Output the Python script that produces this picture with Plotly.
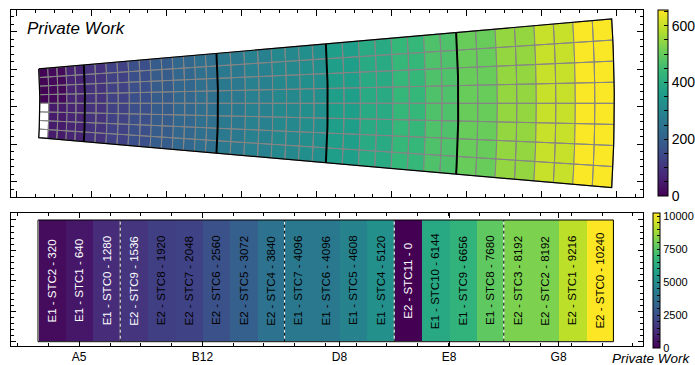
import math
import plotly.graph_objects as go
from plotly.colors import sample_colorscale

W, H = 695, 365

# ---------------- top panel data ----------------
module_names = ["A5", "B12", "D8", "E8", "G8"]
module_ncols = [5, 12, 8, 8, 8]
n_rows = 8
# colour value of each column, upper four rows
values_upper = [5, 15, 15, 65, 65,
                98, 98, 130, 130, 160, 160, 189, 189, 215, 215, 241, 241,
                267, 267, 287, 287, 306, 306, 326, 326,
                365, 365, 398, 398, 437, 437, 469, 469,
                502, 502, 548, 548, 600, 600, 652, 652]
# colour value of each column, lower four rows (None = empty cell)
values_lower = [None, 48, 48, 65, 65,
                98, 98, 130, 130, 160, 160, 189, 189, 215, 215, 241, 241,
                267, 267, 287, 287, 306, 306, 326, 326,
                365, 365, 398, 398, 437, 437, 469, 469,
                502, 502, 548, 548, 600, 600, 652, 652]
row_values = [values_upper] * 4 + [values_lower] * 4
top_cmin, top_cmax = 0, 655
top_cbar_major = [0, 200, 400, 600]

# ---------------- bottom panel data ----------------
stc_names = ["E1 - STC2", "E1 - STC1", "E1 - STC0", "E2 - STC9", "E2 - STC8",
             "E2 - STC7", "E2 - STC6", "E2 - STC5", "E2 - STC4", "E1 - STC7",
             "E1 - STC6", "E1 - STC5", "E1 - STC4", "E2 - STC11", "E1 - STC10",
             "E1 - STC9", "E1 - STC8", "E2 - STC3", "E2 - STC2", "E2 - STC1",
             "E2 - STC0"]
stc_values = [320, 640, 1280, 1536, 1920, 2048, 2560, 3072, 3840, 4096,
              4096, 4608, 5120, 0, 6144, 6656, 7680, 8192, 8192, 9216, 10240]
group_names = ["A5", "B12", "D8", "E8", "G8"]
group_sizes = [3, 6, 4, 4, 4]
bot_cmin, bot_cmax = 0, 10240
bot_cbar_major = [0, 2500, 5000, 7500, 10000]

# ---------------- geometry (layout) ----------------
X0, YC, K, PHI = -354.9, 103.3, 1.19, 0.0732
module_edges_r = [394.7, 439.9, 572.9, 682.6, 813.2, 969.2]

col_edges = []
for m, n in enumerate(module_ncols):
    ra, rb = module_edges_r[m], module_edges_r[m + 1]
    for k in range(n):
        col_edges.append(ra + (rb - ra) * k / n)
col_edges.append(module_edges_r[-1])
phi_edges = [PHI - 2 * PHI * j / n_rows for j in range(n_rows + 1)]


def pt(r, ph):
    return X0 + r * math.cos(ph), YC - K * r * math.sin(ph)


fig = go.Figure()

groups = {}
for j in range(n_rows):
    for c in range(len(col_edges) - 1):
        v = row_values[j][c]
        ra, rb = col_edges[c], col_edges[c + 1]
        pa, pb = phi_edges[j], phi_edges[j + 1]
        corners = [pt(ra, pa), pt(rb, pa), pt(rb, pb), pt(ra, pb), pt(ra, pa)]
        g = groups.setdefault(v, ([], []))
        for (x, y) in corners:
            g[0].append(x)
            g[1].append(y)
        g[0].append(None)
        g[1].append(None)

for v, (xs, ys) in groups.items():
    if v is None:
        col = "white"
    else:
        col = sample_colorscale("Viridis", [(v - top_cmin) / (top_cmax - top_cmin)])[0]
    fig.add_trace(go.Scatter(x=xs, y=ys, mode="lines", fill="toself", fillcolor=col,
                             line=dict(color="#858585", width=1), hoverinfo="skip",
                             xaxis="x", yaxis="y", showlegend=False))

# module boundaries
for r in module_edges_r[1:-1]:
    pts = [pt(r, PHI - 2 * PHI * t / 40) for t in range(41)]
    fig.add_trace(go.Scatter(x=[p[0] for p in pts], y=[p[1] for p in pts], mode="lines",
                             line=dict(color="black", width=2), hoverinfo="skip",
                             xaxis="x", yaxis="y", showlegend=False))
# outline
outline = [pt(module_edges_r[0], PHI - 2 * PHI * t / 40) for t in range(41)]
outline += [pt(module_edges_r[-1], -PHI + 2 * PHI * t / 40) for t in range(41)]
outline.append(outline[0])
fig.add_trace(go.Scatter(x=[p[0] for p in outline], y=[p[1] for p in outline], mode="lines",
                         line=dict(color="black", width=1.2), hoverinfo="skip",
                         xaxis="x", yaxis="y", showlegend=False))

# top colorbar
top_ticks = list(range(0, 651, 50))
fig.add_trace(go.Scatter(
    x=[pt(module_edges_r[-1], 0)[0]], y=[YC], mode="markers", hoverinfo="skip",
    xaxis="x", yaxis="y", showlegend=False,
    marker=dict(size=1, opacity=0, color=[0], colorscale="Viridis", cmin=top_cmin, cmax=top_cmax,
                showscale=True,
                colorbar=dict(x=658 / W, xanchor="left", xpad=0, ypad=0, thickness=10,
                              len=186 / H, lenmode="fraction", y=1 - 10 / H, yanchor="top",
                              outlinewidth=1, outlinecolor="black",
                              ticks="inside", ticklen=4, tickcolor="black",
                              tickmode="array", tickvals=top_ticks,
                              ticktext=[str(t) if t in top_cbar_major else "" for t in top_ticks],
                              tickfont=dict(size=14, color="black", family="Liberation Sans")))))

# ---------------- bottom panel ----------------
idx = list(range(len(stc_values)))
bot_ticks = list(range(0, 10001, 500))
fig.add_trace(go.Bar(
    x=idx, y=[1] * len(idx), width=1, base=0, xaxis="x2", yaxis="y2", hoverinfo="skip",
    showlegend=False,
    marker=dict(color=stc_values, colorscale="Viridis", cmin=bot_cmin, cmax=bot_cmax,
                line=dict(width=0), showscale=True,
                colorbar=dict(x=653 / W, xanchor="left", xpad=0, ypad=0, thickness=7,
                              len=134.7 / H, lenmode="fraction", y=1 - 213 / H, yanchor="top",
                              outlinewidth=1, outlinecolor="black",
                              ticks="inside", ticklen=3, tickcolor="black",
                              tickmode="array", tickvals=bot_ticks,
                              ticktext=[str(t) if t in bot_cbar_major else "" for t in bot_ticks],
                              tickfont=dict(size=11, color="black", family="Liberation Sans")))))

annotations = []
for i, (nm, v) in enumerate(zip(stc_names, stc_values)):
    annotations.append(dict(x=i, y=0.5, xref="x2", yref="y2", text=f"{nm} - {v}",
                            textangle=-90, showarrow=False,
                            font=dict(size=11.5, family="Liberation Sans",
                                      color="white" if v < 1700 else "black")))

shapes = []
pos = -0.5
centres = []
for gi, s in enumerate(group_sizes):
    centres.append(pos + s / 2)
    pos += s
    if gi < len(group_sizes) - 1:
        shapes.append(dict(type="line", xref="x2", yref="y2", x0=pos, x1=pos, y0=0, y1=1,
                           line=dict(color="white", width=1)))
        shapes.append(dict(type="line", xref="x2", yref="y2", x0=pos, x1=pos, y0=0, y1=1,
                           line=dict(color="black", width=1, dash="dot")))
shapes.append(dict(type="rect", xref="x2", yref="y2", x0=-0.5, x1=len(idx) - 0.5, y0=0, y1=1,
                   line=dict(color="black", width=1)))

annotations.append(dict(x=25 / W, y=1 - 28 / H, xref="paper", yref="paper", xanchor="left",
                        yanchor="middle", text="<i>Private Work</i>", showarrow=False,
                        font=dict(size=17, family="Liberation Sans", color="black")))
annotations.append(dict(x=693 / W, y=1 - 358.5 / H, xref="paper", yref="paper", xanchor="right",
                        yanchor="middle", text="<i>Private Work</i>", showarrow=False,
                        font=dict(size=13.5, family="Liberation Sans", color="black")))

axis_common = dict(showline=True, linecolor="black", linewidth=1, mirror="ticks",
                   ticks="inside", tickcolor="black", showgrid=False, zeroline=False)

fig.update_layout(
    width=W, height=H, margin=dict(l=0, r=0, t=0, b=0, autoexpand=False),
    paper_bgcolor="white", plot_bgcolor="white", showlegend=False,
    font=dict(family="Liberation Sans", color="black"),
    bargap=0,
    xaxis=dict(domain=[10.5 / W, 643 / W], range=[10.5, 643], anchor="y",
               tickmode="linear", tick0=16.7, dtick=75, ticklen=6, showticklabels=False,
               minor=dict(ticks="inside", ticklen=3, tickcolor="black", tick0=16.7, dtick=18.75),
               **axis_common),
    yaxis=dict(domain=[1 - 196.7 / H, 1 - 9.5 / H], range=[196.7, 9.5], anchor="x",
               tickmode="linear", tick0=31.7, dtick=37.5, ticklen=6, showticklabels=False,
               minor=dict(ticks="inside", ticklen=3, tickcolor="black", tick0=31.7, dtick=7.5),
               **axis_common),
    xaxis2=dict(domain=[10.5 / W, 643 / W], range=[-1.5036, 21.58], anchor="y2",
                tickmode="array", tickvals=centres, ticktext=group_names, ticklen=5,
                tickfont=dict(size=12, color="black", family="Liberation Sans"),
                minor=dict(ticks="inside", ticklen=3, tickcolor="black", tickmode="linear",
                           tick0=1.01, dtick=1.122),
                **axis_common),
    yaxis2=dict(domain=[1 - 345.7 / H, 1 - 213.3 / H], range=[-0.0329, 1.055], anchor="x2",
                tickmode="linear", tick0=0, dtick=0.25, ticklen=5, showticklabels=False,
                minor=dict(ticks="inside", ticklen=3, tickcolor="black", tick0=0, dtick=0.05),
                **axis_common),
    annotations=annotations, shapes=shapes,
)

fig.write_html("out.html", config={"displayModeBar": False},
               post_script="document.body.style.margin='0px';document.body.style.overflow='hidden';")
